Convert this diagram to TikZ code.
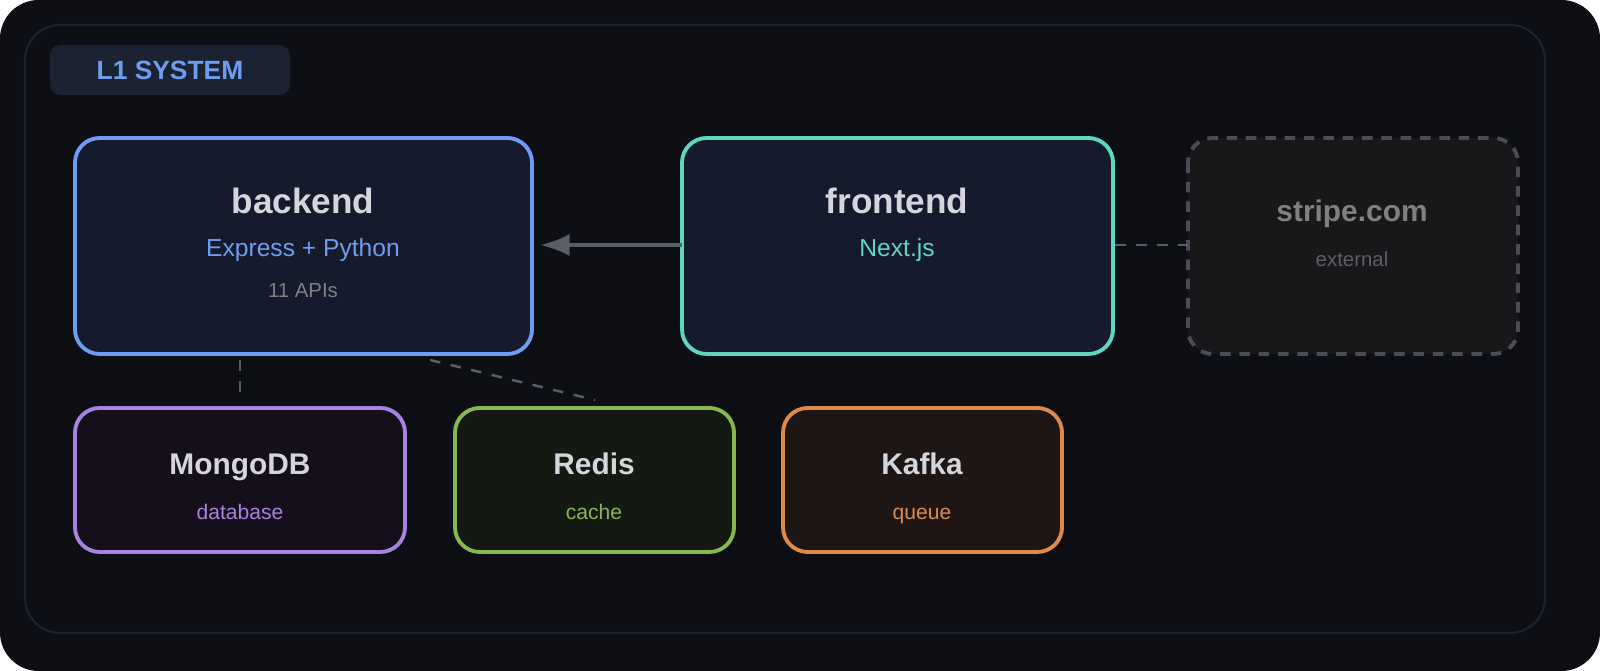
\documentclass[tikz,border=0pt]{standalone}
\usepackage{fontspec}
\setmainfont{Liberation Sans}
\usetikzlibrary{arrows.meta}

\definecolor{pagebg}{HTML}{0D0F14}
\definecolor{framecol}{HTML}{1E2330}
\definecolor{badgebg}{HTML}{1B2333}
\definecolor{bluecol}{HTML}{6E9CF0}
\definecolor{tealcol}{HTML}{5FD6C0}
\definecolor{purplecol}{HTML}{A882DD}
\definecolor{greencol}{HTML}{86B84F}
\definecolor{orangecol}{HTML}{E08A4A}
\definecolor{greycol}{HTML}{4A4D55}
\definecolor{titlecol}{HTML}{D4D6DC}
\definecolor{linkcol}{HTML}{5A5E66}

\begin{document}
\begin{tikzpicture}[x=0.01cm, y=-0.01cm, >=Latex]
  \tikzset{
    box/.style={draw, line width=1.1pt, rounded corners=7pt},
    every node/.style={anchor=base, inner sep=0pt},
    title/.style={font=\bfseries\fontsize{10}{12}\selectfont, text=titlecol},
    small/.style={font=\bfseries\fontsize{8.5}{10}\selectfont, text=titlecol},
    link/.style={linkcol, line width=0.7pt, dashed, dash pattern=on 3pt off 3pt}
  }

  % --- Background ---
  \fill[white] (0,0) rectangle (1600,671);
  \fill[pagebg, rounded corners=11pt] (0,0) rectangle (1600,671);
  \draw[framecol, line width=0.6pt, rounded corners=10pt] (25,25) rectangle (1545,633);
  \fill[badgebg, rounded corners=3pt] (50,45) rectangle (290,95);
  \node[font=\bfseries\fontsize{7.5}{9}\selectfont, text=bluecol] (badge) at (170,80) {L1 SYSTEM};

  % --- Services ---
  \draw[box, bluecol, fill={rgb,255:red,21;green,26;blue,44}] (75,138) rectangle (532,354);
  \node[title] (backend) at (303,214) {backend};
  \node[font=\fontsize{7}{8}\selectfont, text=bluecol] (backendsub) at (303,257) {Express + Python};
  \node[font=\fontsize{5.8}{7}\selectfont, text=gray] (backendapi) at (303,298) {11 APIs};

  \draw[box, tealcol, fill={rgb,255:red,21;green,26;blue,44}] (682,138) rectangle (1113,354);
  \node[title] (frontend) at (897,214) {frontend};
  \node[font=\fontsize{7}{8}\selectfont, text=tealcol] (frontendsub) at (897,257) {Next.js};

  \draw[box, greycol, dashed, dash pattern=on 3pt off 2.5pt, fill={rgb,255:red,24;green,24;blue,27}] (1188,138) rectangle (1518,354);
  \node[font=\bfseries\fontsize{8.5}{10}\selectfont, text=gray] (stripe) at (1352,222) {stripe.com};
  \node[font=\fontsize{5.8}{7}\selectfont, text=greycol!90!white] (stripesub) at (1352,267) {external};

  % --- Stores ---
  \draw[box, purplecol, fill={rgb,255:red,21;green,15;blue,28}] (75,408) rectangle (405,552);
  \node[small] (mongo) at (240,475) {MongoDB};
  \node[font=\fontsize{6}{7}\selectfont, text=purplecol] (mongosub) at (240,520) {database};

  \draw[box, greencol, fill={rgb,255:red,20;green,26;blue,18}] (455,408) rectangle (734,552);
  \node[small] (redis) at (594,475) {Redis};
  \node[font=\fontsize{6}{7}\selectfont, text=greencol] (redissub) at (594,520) {cache};

  \draw[box, orangecol, fill={rgb,255:red,30;green,22;blue,20}] (783,408) rectangle (1062,552);
  \node[small] (kafka) at (922,475) {Kafka};
  \node[font=\fontsize{6}{7}\selectfont, text=orangecol] (kafkasub) at (922,520) {queue};

  % --- Links ---
  \coordinate (feW) at (682,245);
  \coordinate (beE) at (540,245);
  \coordinate (feE) at (1115,245);
  \coordinate (stW) at (1188,245);
  \coordinate (beM) at (240,360);
  \coordinate (mgN) at (240,402);
  \coordinate (beR) at (430,360);
  \coordinate (rdN) at (595,400);
  \draw[->, linkcol, line width=1.2pt] (feW) -- (beE);
  \draw[link] (feE) -- (stW);
  \draw[link] (beM) -- (mgN);
  \draw[link] (beR) -- (rdN);
\end{tikzpicture}
\end{document}
